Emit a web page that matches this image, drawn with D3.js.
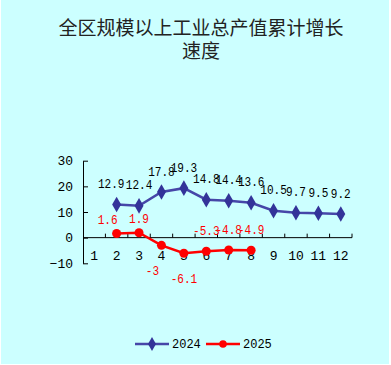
<!DOCTYPE html>
<html><head><meta charset="utf-8">
<script src="https://cdn.jsdelivr.net/npm/d3@7/dist/d3.min.js"></script>
<style>html,body{margin:0;padding:0;background:#fff;}svg{display:block;}</style>
</head><body>
<script>
const titleLines = ["全区规模以上工业总产值累计增长", "速度"];
const months = ["1","2","3","4","5","6","7","8","9","10","11","12"];
const series2024Months = ["2","3","4","5","6","7","8","9","10","11","12"];
const series2024Values = [12.9,12.4,17.8,19.3,14.8,14.4,13.6,10.5,9.7,9.5,9.2];
const series2025Months = ["2","3","4","5","6","7","8"];
const series2025Values = [1.6,1.9,-3,-6.1,-5.3,-4.8,-4.9];
const label2024Placement = ["above-left","above","above","above","above","above","above","above","above","above","above"];
const label2025Placement = ["above-left","above","below-left","below","above","above","above"];
const yTicks = [-10,0,10,20,30];
const seriesNames = ["2024","2025"];

const W = 391, H = 365;
const svg = d3.select("body").append("svg").attr("width", W).attr("height", H);
svg.append("rect").attr("x",1).attr("y",0).attr("width",388).attr("height",364).attr("fill","#CCFFFF");

const numFont = "'Liberation Mono', 'DejaVu Sans Mono', monospace";

// title (one text element, two lines)
const title = svg.append("text").attr("text-anchor","middle")
  .attr("font-family","'Noto Sans CJK SC', sans-serif")
  .attr("font-size", 19).attr("fill","#222");
title.selectAll("tspan").data(titleLines).join("tspan")
  .attr("x", 201).attr("y", (d,i)=> 35 + i*23).text(d=>d);

const x = d3.scaleBand().domain(months).range([83, 352]).padding(0);
const y = d3.scaleLinear().domain([-10,30]).range([263.3,160.7]);
const cx = m => x(m) + x.bandwidth()/2;

// y axis
const yAxis = svg.append("g").attr("transform","translate(83,0)")
  .call(d3.axisLeft(y).tickValues(yTicks).tickSize(-5).tickPadding(10).tickSizeOuter(0));
yAxis.select(".domain").attr("stroke","#000");
yAxis.selectAll(".tick line").attr("stroke","#000");
yAxis.selectAll("text").attr("font-family",numFont).attr("font-size",13).attr("fill","#000");

// x axis at zero
const x0 = y(0);
const xAxis = svg.append("g").attr("transform",`translate(0,${x0})`);
xAxis.append("line").attr("x1",x.range()[0]).attr("x2",x.range()[1]).attr("stroke","#000");
const boundaries = months.map(m=>x(m)).concat([x.range()[1]]).slice(1);
xAxis.selectAll("line.tk").data(boundaries).join("line").attr("class","tk")
  .attr("x1",d=>d).attr("x2",d=>d).attr("y1",0).attr("y2",-4).attr("stroke","#000");
xAxis.selectAll("text").data(months).join("text")
  .attr("x",d=>cx(d)).attr("y",18).attr("dy","0.35em").attr("text-anchor","middle")
  .attr("font-family",numFont).attr("font-size",13).attr("fill","#000").text(d=>d);

const line = d3.line().x(d=>cx(d.m)).y(d=>y(d.v));
const d24 = series2024Months.map((m,i)=>({m, v:series2024Values[i], p:label2024Placement[i]}));
const d25 = series2025Months.map((m,i)=>({m, v:series2025Values[i], p:label2025Placement[i]}));

const c24 = "#333399", c24l = "#4646A8", c25 = "#FF0000";
const labelDx = p => p.endsWith("left") ? -9 : 0;

function labels(sel, data, color, dxf, dyf){
  sel.selectAll("text").data(data).join("text")
    .attr("transform", d=>`translate(${cx(d.m)+dxf(d)},${y(d.v)+dyf(d)}) scale(0.85,1)`)
    .attr("dy","0.35em").attr("text-anchor","middle")
    .attr("font-family",numFont).attr("font-size",13).attr("fill",color).text(d=>d.v);
}

// 2024
svg.append("path").datum(d24).attr("d",line).attr("fill","none").attr("stroke",c24l).attr("stroke-width",2.5);
const diamond = d3.symbol().type(d3.symbolDiamond).size(70);
svg.append("g").selectAll("path").data(d24).join("path")
  .attr("d",diamond).attr("transform",d=>`translate(${cx(d.m)},${y(d.v)})`).attr("fill",c24);
labels(svg.append("g"), d24, "#000", d=>labelDx(d.p)*0.6, d=>-21);

// 2025
svg.append("path").datum(d25).attr("d",line).attr("fill","none").attr("stroke",c25).attr("stroke-width",2.5);
svg.append("g").selectAll("circle").data(d25).join("circle")
  .attr("cx",d=>cx(d.m)).attr("cy",d=>y(d.v)).attr("r",4.5).attr("fill",c25);
labels(svg.append("g"), d25, c25, d=>labelDx(d.p),
  d=> d.p.startsWith("above") ? (d.v>0?-14:-21) : 25);

// legend
const leg = svg.append("g");
const legItems = [{name:seriesNames[0], c:c24l, mc:c24, x:135, type:"d"},{name:seriesNames[1], c:c25, mc:c25, x:206, type:"c"}];
legItems.forEach(it=>{
  const g = leg.append("g").attr("transform",`translate(${it.x},344)`);
  g.append("line").attr("x1",0).attr("x2",34).attr("stroke",it.c).attr("stroke-width",2.5);
  if(it.type==="d") g.append("path").attr("d",d3.symbol().type(d3.symbolDiamond).size(55)).attr("transform","translate(17,0)").attr("fill",it.mc);
  else g.append("circle").attr("cx",17).attr("cy",0).attr("r",3.8).attr("fill",it.mc);
  g.append("text").attr("x",37).attr("y",0).attr("dy","0.35em").attr("font-family",numFont).attr("font-size",12).attr("fill","#000").text(it.name);
});
</script>
</body></html>
